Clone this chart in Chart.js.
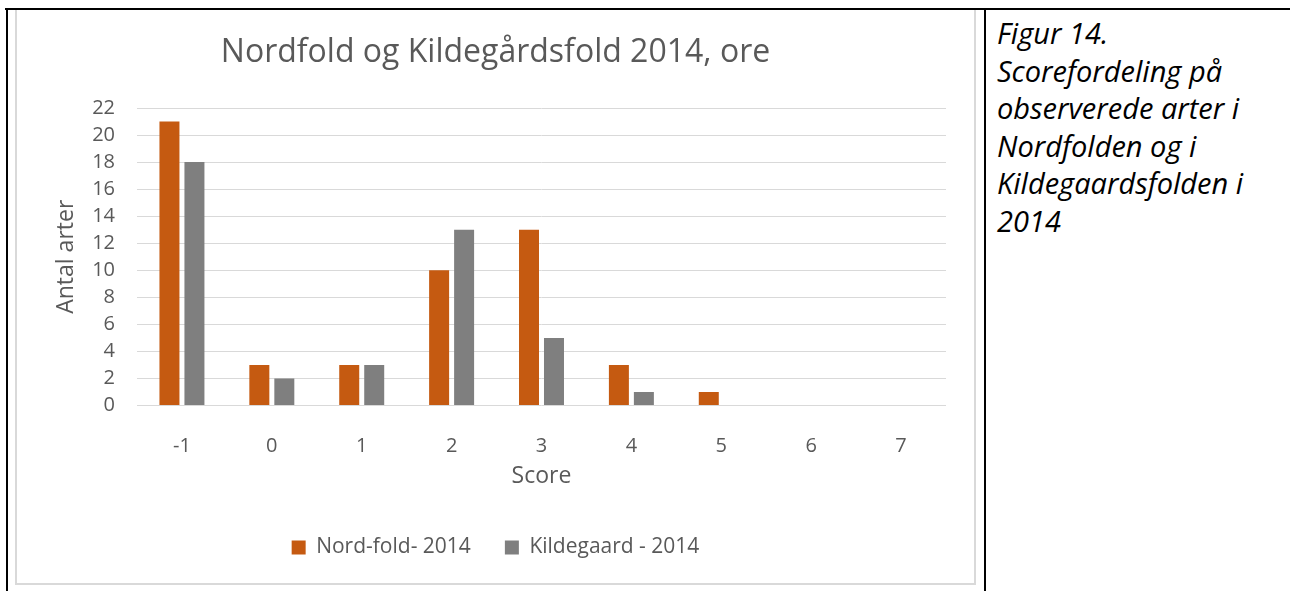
<!DOCTYPE html>
<html>
<head>
<meta charset="utf-8">
<script src="https://cdn.jsdelivr.net/npm/chart.js@4"></script>
<style>
  body { margin: 0; background: #fff; width: 1290px; height: 591px; overflow: hidden; position: relative; }
  .topline { position: absolute; left: 5px; top: 8px; width: 1285px; height: 2px; background: #000; }
  .leftline { position: absolute; left: 6px; top: 8px; width: 2px; height: 600px; background: #000; }
  .midline { position: absolute; left: 984px; top: 8px; width: 2px; height: 600px; background: #000; }
  .box { position: absolute; left: 15px; top: 10px; width: 957px; height: 573px; border: 2px solid #d9d9d9; border-top: none; }
  .wrap { position: absolute; left: 17px; top: 10px; width: 957px; height: 573px; }
  .caption { position: absolute; left: 997px; top: 14px; font-family: "Open Sans", sans-serif; font-style: italic; font-size: 29px; line-height: 37.5px; color: #000; white-space: nowrap; }
</style>
</head>
<body>
<div class="topline"></div>
<div class="leftline"></div>
<div class="midline"></div>
<div class="box"></div>
<div class="wrap"><canvas id="myChart"></canvas></div>
<div class="caption">Figur 14.<br>Scorefordeling på<br>observerede arter i<br>Nordfolden og i<br>Kildegaardsfolden i<br>2014</div>
<script>
var scores = ["-1","0","1","2","3","4","5","6","7"];
var nordfold = [21,3,3,10,13,3,1,0,0];
var kildegaard = [18,2,3,13,5,1,0,0,0];
var yTicks = [0,2,4,6,8,10,12,14,16,18,20,22];

var ctx = document.getElementById("myChart");
var grey = "#595959";
var myChart = new Chart(ctx, {
    type: 'bar',
    data: {
        labels: scores,
        datasets: [
            {
                label: "Nord-fold- 2014",
                data: nordfold,
                backgroundColor: "#C55A11"
            },
            {
                label: "Kildegaard - 2014",
                data: kildegaard,
                backgroundColor: "#7F7F7F"
            }
        ]
    },
    options: {
        responsive: true,
        maintainAspectRatio: false,
        animation: false,
        categoryPercentage: 0.556,
        barPercentage: 0.8,
        layout: { padding: { left: 28, right: 28, top: 0, bottom: 15 } },
        plugins: {
            title: {
                display: true,
                text: "Nordfold og Kildegårdsfold 2014, ore",
                color: grey,
                font: { family: "Open Sans", size: 32, weight: 'normal' },
                padding: { top: 24, bottom: 35.6 }
            },
            legend: {
                position: 'bottom',
                labels: {
                    color: grey,
                    font: { family: "Open Sans", size: 21 },
                    boxWidth: 14,
                    boxHeight: 14,
                    padding: 34
                }
            },
            tooltip: { enabled: false }
        },
        scales: {
            x: {
                afterFit: function (scale) { scale.height = 97.5; },
                grid: { display: false },
                border: { display: false },
                ticks: { color: grey, font: { family: "Open Sans", size: 20 }, padding: 21 },
                title: { display: true, text: "Score", color: grey, font: { family: "Open Sans", size: 23 }, padding: { top: 0, bottom: 12.7 } }
            },
            y: {
                min: 0,
                max: 22,
                afterFit: function (scale) { scale.width = 92; },
                afterBuildTicks: function (scale) { scale.ticks = yTicks.map(function (v) { return { value: v }; }); },
                grid: { color: "#d9d9d9", lineWidth: 1, drawTicks: false },
                border: { display: false },
                ticks: { color: grey, font: { family: "Open Sans", size: 20 }, padding: 22 },
                title: { display: true, text: "Antal arter", color: grey, font: { family: "Open Sans", size: 23 }, padding: { top: 8, bottom: 0 } }
            }
        }
    }
});
</script>
</body>
</html>
